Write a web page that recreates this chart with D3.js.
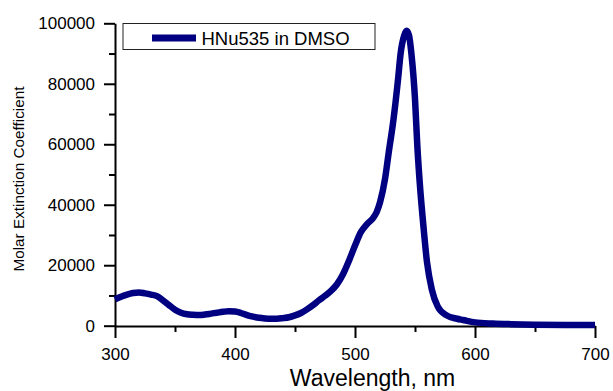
<!DOCTYPE html>
<html>
<head>
<meta charset="utf-8">
<script src="https://cdn.jsdelivr.net/npm/d3@7"></script>
<style>
  body { margin: 0; background: #fff; }
  svg { display: block; font-family: Arial, "Liberation Sans", sans-serif; }
</style>
</head>
<body>
<svg id="chart" width="613" height="391"></svg>
<script>
// Absorption spectrum
const wavelength = [300, 305, 310, 315, 320, 325, 330, 335, 340, 345, 350, 355, 360, 365, 370,
  375, 380, 385, 390, 395, 400, 405, 410, 415, 420, 425, 430, 435, 440, 445, 450, 455, 460,
  465, 470, 475, 480, 485, 490, 495, 500, 505, 510, 515, 518, 521, 525, 528, 532, 536, 538,
  541, 543, 545, 547, 550, 552, 554, 557, 560, 564, 569, 576, 585, 590, 600, 615, 630, 650,
  675, 700];
const epsilon = [8700, 9600, 10300, 10800, 11000, 10700, 10300, 9800, 8400, 6800, 5300, 4300,
  3800, 3600, 3500, 3700, 4000, 4300, 4600, 4800, 4700, 4200, 3500, 3000, 2600, 2400, 2300,
  2300, 2500, 2800, 3400, 4200, 5400, 6800, 8400, 9900, 11500, 13700, 17000, 21500, 26500,
  31000, 33600, 35600, 37500, 41000, 48500, 57000, 68000, 82000, 90000, 96000, 97500, 96000,
  90000, 75000, 59000, 47000, 33000, 21000, 12000, 6300, 3500, 2300, 1900, 1100, 700, 500,
  350, 250, 200];
const seriesName = "HNu535 in DMSO";
const xTicks = [300, 400, 500, 600, 700];
const xMinor = [350, 450, 550, 650];
const yTicks = [0, 20000, 40000, 60000, 80000, 100000];
const yMinor = [10000, 30000, 50000, 70000, 90000];

const svg = d3.select("#chart");
const x = d3.scaleLinear().domain([300, 700]).range([115, 595]);
const y = d3.scaleLinear().domain([0, 100000]).range([325.7, 23.3]);
const axisY0 = 326;

// minor ticks first, then major axes on top
svg.append("g")
  .attr("transform", `translate(0,${axisY0})`)
  .call(d3.axisBottom(x).tickValues(xMinor).tickSize(6).tickFormat(""))
  .call(g => g.select(".domain").remove());
svg.append("g")
  .attr("transform", "translate(115,0)")
  .call(d3.axisLeft(y).tickValues(yMinor).tickSize(6).tickFormat(""))
  .call(g => g.select(".domain").remove());

const xAxis = svg.append("g")
  .attr("transform", `translate(0,${axisY0})`)
  .call(d3.axisBottom(x).tickValues(xTicks).tickSize(12).tickSizeOuter(0).tickPadding(10));
xAxis.selectAll("text").attr("font-size", "17px").attr("font-family", "Arial, 'Liberation Sans'").attr("fill", "#000");

const yAxis = svg.append("g")
  .attr("transform", "translate(115,0)")
  .call(d3.axisLeft(y).tickValues(yTicks).tickSize(11).tickSizeOuter(0).tickPadding(9).tickFormat(d3.format("d")));
yAxis.selectAll("text").attr("font-size", "17px").attr("font-family", "Arial, 'Liberation Sans'").attr("fill", "#000");

svg.selectAll(".domain").attr("stroke", "#000").attr("stroke-width", 2);
svg.selectAll(".tick line").attr("stroke", "#000").attr("stroke-width", 2);

// spectrum
const pts = wavelength.map((w, i) => [w, epsilon[i]]);
const line = d3.line()
  .x(d => x(d[0]))
  .y(d => y(d[1]))
  .curve(d3.curveMonotoneX);
svg.append("path")
  .datum(pts)
  .attr("d", line)
  .attr("fill", "none")
  .attr("stroke", "#000080")
  .attr("stroke-width", 6.5)
  .attr("stroke-linejoin", "round");

// legend
svg.append("rect")
  .attr("x", 123).attr("y", 23.5)
  .attr("width", 252).attr("height", 26)
  .attr("fill", "#fff")
  .attr("stroke", "#222")
  .attr("stroke-width", 1);
svg.append("line")
  .attr("x1", 152).attr("x2", 196)
  .attr("y1", 38).attr("y2", 38)
  .attr("stroke", "#000080")
  .attr("stroke-width", 7);
svg.append("text")
  .attr("x", 201.5).attr("y", 44.8)
  .attr("font-size", "18.5px")
  .text(seriesName);

// axis titles
svg.append("text")
  .attr("x", 372.5).attr("y", 385.5)
  .attr("text-anchor", "middle")
  .attr("font-size", "23px")
  .text("Wavelength, nm");
svg.append("text")
  .attr("transform", "translate(24,179) rotate(-90)")
  .attr("text-anchor", "middle")
  .attr("font-size", "15.3px")
  .text("Molar Extinction Coefficient");
</script>
</body>
</html>
